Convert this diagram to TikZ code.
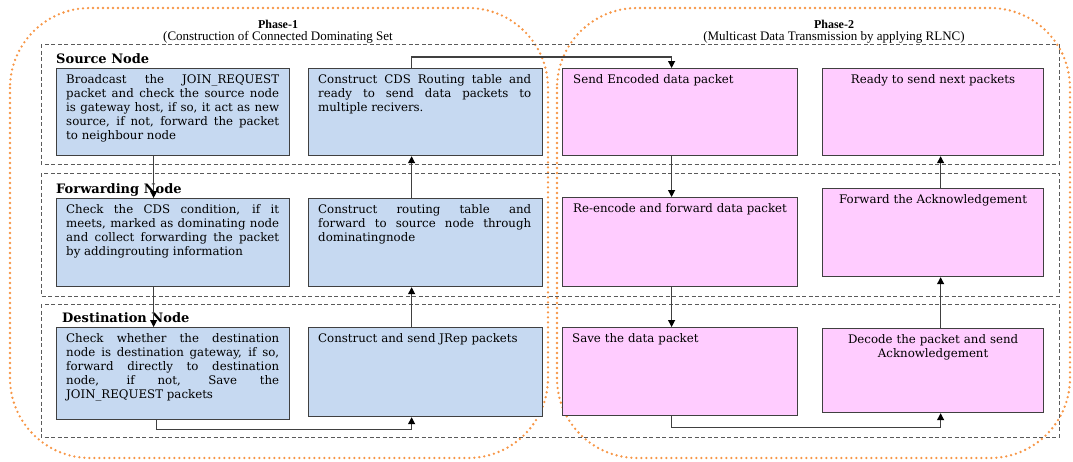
\documentclass[tikz,border=0pt]{standalone}
\usepackage{fontspec}
\setmainfont{DejaVu Serif}
\newfontfamily\ttl{Liberation Serif}
\usetikzlibrary{arrows.meta}
\definecolor{blueF}{HTML}{C6D9F1}
\definecolor{pinkF}{HTML}{FFCCFF}
\definecolor{edgeC}{HTML}{404040}
\definecolor{orng}{HTML}{F79646}
\definecolor{bandC}{HTML}{5A5A5A}
\begin{document}
\begin{tikzpicture}[x=1pt,y=-1pt,
  phase/.style={draw=orng, line width=2.6pt, line cap=round, dash pattern=on 0pt off 5pt, rounded corners=80pt},
  lane/.style={draw=bandC, line width=0.9pt, dash pattern=on 4pt off 2.5pt},
  box/.style={draw=edgeC, line width=1.2pt, anchor=north west, inner sep=0pt},
  bbox/.style={box, fill=blueF},
  pbox/.style={box, fill=pinkF},
  txt/.style={inner sep=0pt, text width=213pt, font=\fontsize{11.8}{14.2}\selectfont},
  jtxt/.style={txt, align=justify, anchor=base west},
  ltxt/.style={txt, align=left, anchor=base west},
  ctxt/.style={inner sep=0pt, font=\fontsize{11.8}{14.2}\selectfont, align=center, anchor=base},
  lanelabel/.style={font=\bfseries\fontsize{13}{15}\selectfont, anchor=base west, inner sep=0pt},
  arr/.style={draw=edgeC, line width=1.1pt, -{Triangle[length=7pt,width=7pt,color=black]}},
  ptitle/.style={font=\ttl\bfseries\fontsize{12}{14}\selectfont, inner sep=0pt},
  psub/.style={font=\ttl\fontsize{13}{15}\selectfont, inner sep=0pt},
]
\useasboundingbox (0,0) rectangle (1073,461);
% phases
\draw[phase] (10,8) rectangle (548,458);
\draw[phase] (557,8) rectangle (1070,458);
\node[ptitle] (t1) at (278,24) {Phase-1};
\node[psub] (s1) at (278,37) {(Construction of Connected Dominating Set};
\node[ptitle] (t2) at (834,24) {Phase-2};
\node[psub] (s2) at (834,37) {(Multicast Data Transmission by applying RLNC)};
% lanes
\draw[lane] (41,44) rectangle (1059,164);
\draw[lane] (41,173) rectangle (1059,296);
\draw[lane] (41,304) rectangle (1059,437);
\node[lanelabel] (l1) at (56,63) {Source Node};
\node[lanelabel] (l2) at (56,193) {Forwarding Node};
\node[lanelabel] (l3) at (62,322) {Destination Node};
% boxes
\node[bbox, minimum width=233pt, minimum height=87pt] (A) at (56,68) {};
\node[bbox, minimum width=234pt, minimum height=87pt] (B) at (308,68) {};
\node[pbox, minimum width=235pt, minimum height=87pt] (C) at (562,68) {};
\node[pbox, minimum width=221pt, minimum height=87pt] (D) at (822,68) {};
\node[bbox, minimum width=233pt, minimum height=88pt] (E) at (56,198) {};
\node[bbox, minimum width=234pt, minimum height=88pt] (F) at (308,198) {};
\node[pbox, minimum width=235pt, minimum height=89pt] (G) at (562,197) {};
\node[pbox, minimum width=221pt, minimum height=88pt] (H) at (822,188) {};
\node[bbox, minimum width=233pt, minimum height=92pt] (I) at (56,327) {};
\node[bbox, minimum width=234pt, minimum height=89pt] (J) at (308,327) {};
\node[pbox, minimum width=235pt, minimum height=88pt] (K) at (562,327) {};
\node[pbox, minimum width=221pt, minimum height=84pt] (L) at (822,328) {};
% texts
\node[jtxt] (At) at ([xshift=10pt,yshift=-15pt]A.north west) {Broadcast the JOIN\_REQUEST\linebreak packet and check the source node\linebreak is gateway host, if so, it act as new\linebreak source, if not, forward the packet\linebreak to neighbour node};
\node[jtxt] (Bt) at ([xshift=10pt,yshift=-15pt]B.north west) {Construct CDS Routing table and\linebreak ready to send data packets to\linebreak multiple recivers.};
\node[jtxt] (Et) at ([xshift=10pt,yshift=-15pt]E.north west) {Check the CDS condition, if it\linebreak meets, marked as dominating node\linebreak and collect forwarding the packet\linebreak by addingrouting information};
\node[jtxt] (Ft) at ([xshift=10pt,yshift=-15pt]F.north west) {Construct routing table and\linebreak forward to source node through\linebreak dominatingnode};
\node[jtxt] (It) at ([xshift=10pt,yshift=-15pt]I.north west) {Check whether the destination\linebreak node is destination gateway, if so,\linebreak forward directly to destination\linebreak node, if not, Save the\linebreak JOIN\_REQUEST packets};
\node[ltxt] (Jt) at ([xshift=10pt,yshift=-15pt]J.north west) {Construct and send JRep packets};
\node[ltxt] (Ct) at ([xshift=11pt,yshift=-15pt]C.north west) {Send Encoded data packet};
\node[ctxt] (Dt) at ([yshift=-15pt]D.north) {Ready to send next packets};
\node[ctxt] (Gt) at ([yshift=-15pt]G.north) {Re-encode and forward data packet};
\node[ctxt] (Ht) at ([yshift=-15pt]H.north) {Forward the Acknowledgement};
\node[ltxt] (Kt) at ([xshift=10pt,yshift=-15pt]K.north west) {Save the data packet};
\node[ctxt, text width=210pt] (Lt) at ([yshift=-15pt]L.north) {Decode the packet and send\\Acknowledgement};
% connectors
\draw[arr] ([xshift=-19.5pt]A.south) -- ([xshift=-19.5pt]E.north);
\draw[arr] ([xshift=-19.5pt]E.south) -- ([xshift=-19.5pt]I.north);
\draw[arr] ([xshift=-16.5pt]I.south) -- ++(0,9) -| ([xshift=-14pt]J.south);
\draw[arr] ([xshift=-14pt]J.north) -- ([xshift=-14pt]F.south);
\draw[arr] ([xshift=-14pt]F.north) -- ([xshift=-14pt]B.south);
\draw[arr] ([xshift=-14pt]B.north) -- ++(0,-11) -| ([xshift=-8.5pt]C.north);
\draw[arr] ([xshift=-8.5pt]C.south) -- ([xshift=-8.5pt]G.north);
\draw[arr] ([xshift=-8.5pt]G.south) -- ([xshift=-8.5pt]K.north);
\draw[arr] ([xshift=-8.5pt]K.south) -- ++(0,11) -| ([xshift=7.5pt]L.south);
\draw[arr] ([xshift=7.5pt]L.north) -- ([xshift=7.5pt]H.south);
\draw[arr] ([xshift=7.5pt]H.north) -- ([xshift=7.5pt]D.south);
\end{tikzpicture}
\end{document}
